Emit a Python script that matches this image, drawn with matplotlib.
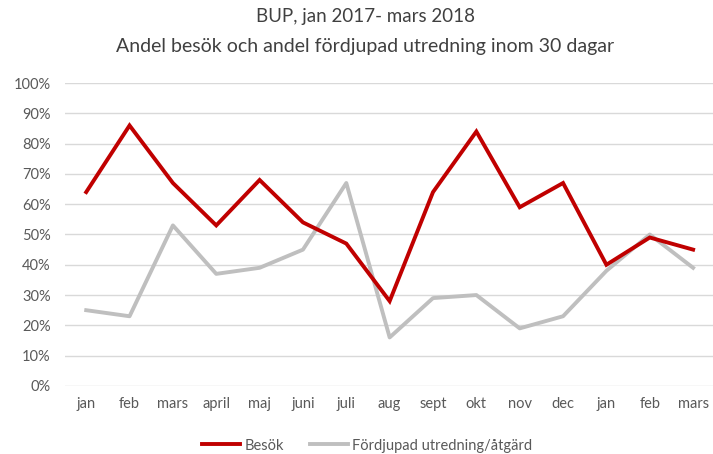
import matplotlib
matplotlib.use("Agg")
import matplotlib.pyplot as plt
from matplotlib.ticker import PercentFormatter

# data -----------------------------
months = ['jan', 'feb', 'mars', 'april', 'maj', 'juni', 'juli', 'aug',
          'sept', 'okt', 'nov', 'dec', 'jan', 'feb', 'mars']
besok = [64, 86, 67, 53, 68, 54, 47, 28, 64, 84, 59, 67, 40, 49, 45]
fordjupad = [25, 23, 53, 37, 39, 45, 67, 16, 29, 30, 19, 23, 38, 50, 39]
yticks = list(range(0, 101, 10))

plt.rcParams['font.family'] = ['Lato', 'DejaVu Sans']

fig = plt.figure(figsize=(7.13, 4.54), dpi=100)
ax = fig.add_axes([0.0905, 0.150, 0.912, 0.667])
x = list(range(len(months)))

ax.plot(x, besok, color='#c00000', lw=2.8, label='Besök', solid_joinstyle='miter', zorder=3)
ax.plot(x, fordjupad, color='#bfbfbf', lw=2.8, label='Fördjupad utredning/åtgärd', zorder=2)

ax.set_xlim(-0.5, len(months) - 0.5)
ax.set_ylim(0, 100)
ax.set_yticks(yticks)
ax.yaxis.set_major_formatter(PercentFormatter(decimals=0))
ax.set_xticks(x)
ax.set_xticklabels(months)
ax.grid(axis='y', color='#d9d9d9', lw=1)
ax.set_axisbelow(True)
for s in ax.spines.values():
    s.set_visible(False)
ax.tick_params(length=0, labelsize=10.5, colors='#595959', pad=8)
ax.tick_params(axis='y', pad=10)

fig.text(0.513, 0.963, 'BUP, jan 2017- mars 2018', ha='center', va='center',
         fontsize=13.5, color='#404040')
fig.text(0.512, 0.897, 'Andel besök och andel fördjupad utredning inom 30 dagar',
         ha='center', va='center', fontsize=14, color='#404040')

# legend sits right at the lower edge like in the original
leg = fig.legend(loc='lower center', bbox_to_anchor=(0.515, 0.0), ncol=2, frameon=False,
                 fontsize=10.5, handlelength=2.6, columnspacing=1.8, handletextpad=0.3,
                 borderaxespad=0.0, borderpad=0.1)
for t in leg.get_texts():
    t.set_color('#595959')

fig.savefig('out.png', dpi=100)
